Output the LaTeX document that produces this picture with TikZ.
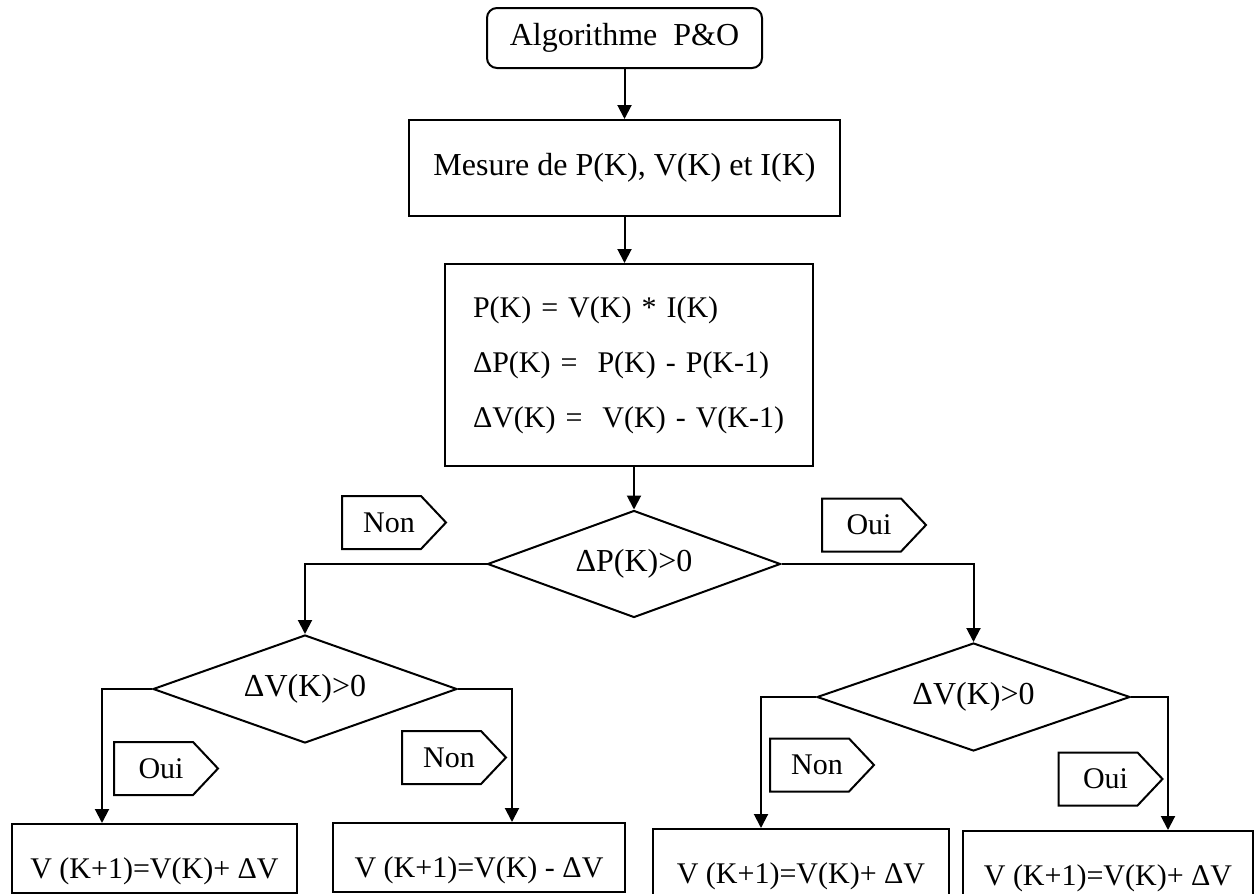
\documentclass[tikz,border=0pt]{standalone}
\usepackage{fontspec}
\setmainfont{Liberation Serif}
\usetikzlibrary{shapes.geometric,arrows.meta}
\newcommand\flagshape[1]{\draw (#1.north west) -- ([xshift=-12.5pt]#1.north east) -- (#1.east) -- ([xshift=-12.5pt]#1.south east) -- (#1.south west) -- cycle;}
\begin{document}
\begin{tikzpicture}[x=0.5pt,y=-0.5pt, line width=1pt,
  every node/.style={font=\fontsize{15}{18}\selectfont},
  big/.style={font=\fontsize{16}{19}\selectfont},
  arr/.style={-{Triangle[length=7pt,width=7pt]}},
  box/.style={draw, inner sep=0pt},
  dec/.style={draw, diamond, aspect=2.7, inner sep=0pt, big},
  flag/.style={inner sep=0pt, minimum width=51pt, minimum height=25.5pt, execute at begin node={\hspace*{-5pt}}},
  res/.style={box, text height=27pt}]
\clip (0,0) rectangle (1254,894);

\node[box, big, rounded corners=5pt, minimum width=137.5pt, minimum height=30pt] (start) at (624.5,38) {Algorithme~~P\&O};
\node[box, big, minimum width=215.5pt, minimum height=48pt] (mes) at (624.5,168) {Mesure de P(K), V(K) et I(K)};
\node[box, minimum height=101pt, text width=156pt, inner xsep=14pt, align=left, font=\fontsize{15}{27.5}\selectfont] (calc) at (629,365) {P(K) = V(K) * I(K)\\ ΔP(K) =~~P(K) - P(K-1)\\ ΔV(K) =~~V(K) - V(K-1)};

\node[dec, minimum width=146.5pt, minimum height=53.5pt] (d1) at (634,564) {ΔP(K)>0};
\node[dec, minimum width=152pt, minimum height=54pt] (d2) at (305,689) {ΔV(K)>0};
\node[dec, minimum width=156.5pt, minimum height=54pt] (d3) at (973.5,697) {ΔV(K)>0};

\node[res, minimum width=142.5pt, text depth=7.5pt] (b1) at (154.5,858.5) {V (K+1)=V(K)+ ΔV};
\node[res, minimum width=146pt, text depth=7.5pt] (b2) at (479,857.5) {V (K+1)=V(K) - ΔV};
\node[res, minimum width=148pt, text depth=11pt] (b3) at (801,867) {V (K+1)=V(K)+ ΔV};
\node[res, minimum width=145pt, text depth=11pt] (b4) at (1108,869) {V (K+1)=V(K)+ ΔV};

\node[flag] (n1) at (394,522.5) {Non};
\node[flag] (o1) at (874,525) {Oui};
\node[flag] (o2) at (166,768.5) {Oui};
\node[flag] (n2) at (454,757.5) {Non};
\node[flag] (n3) at (822,765) {Non};
\node[flag] (o3) at (1110.5,779) {Oui};
\flagshape{n1}\flagshape{o1}\flagshape{o2}\flagshape{n2}\flagshape{n3}\flagshape{o3}

\draw[arr] (start) -- (mes);
\draw[arr] (mes.south) -- (mes.south |- calc.north);
\draw[arr] (d1.north |- calc.south) -- (d1.north);
\draw[arr] (d1.west) -| (d2.north);
\draw[arr] (d1.east) -| (d3.north);
\draw[arr] (d2.west) -| ([xshift=45.5pt]b1.north west);
\draw[arr] (d2.east) -| ([xshift=90pt]b2.north west);
\draw[arr] (d3.west) -| ([xshift=54.5pt]b3.north west);
\draw[arr] (d3.east) -| ([xshift=103pt]b4.north west);
\end{tikzpicture}
\end{document}
